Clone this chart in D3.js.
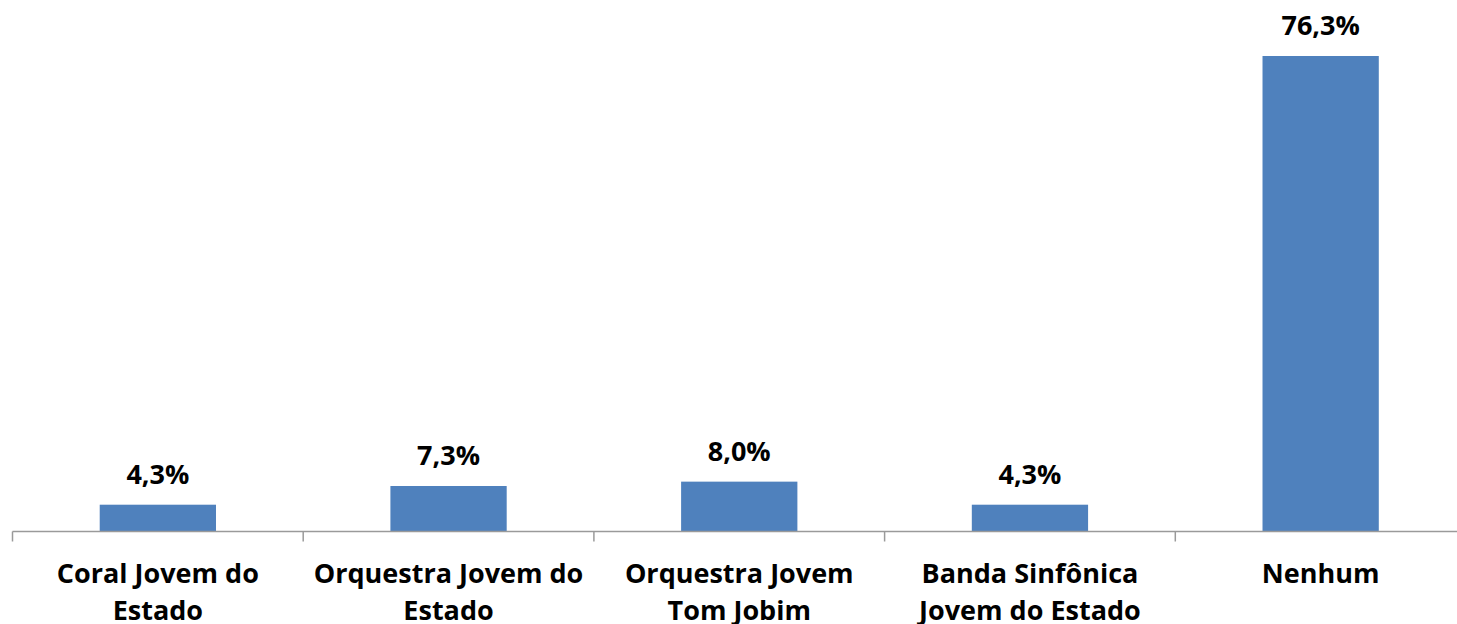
<!DOCTYPE html>
<html>
<head>
<meta charset="utf-8">
<script src="https://cdn.jsdelivr.net/npm/d3@7"></script>
<style>
  body { margin: 0; background: #fff; }
  text { font-family: "Open Sans", sans-serif; font-weight: bold; fill: #000; }
</style>
</head>
<body>
<svg id="chart"></svg>
<script>
var categories = [
  ['Coral Jovem do', 'Estado'],
  ['Orquestra Jovem do', 'Estado'],
  ['Orquestra Jovem', 'Tom Jobim'],
  ['Banda Sinfônica', 'Jovem do Estado'],
  ['Nenhum']
];
var values = [4.3, 7.3, 8.0, 4.3, 76.3];
var valueLabels = ['4,3%', '7,3%', '8,0%', '4,3%', '76,3%'];

var svgWidth = 1457;
var svgHeight = 624;
var baseline = 531.5;

var svg = d3.select('#chart')
  .attr('width', svgWidth)
  .attr('height', svgHeight);

// uma faixa por categoria, barra ocupa 40% da faixa
var xScale = d3.scaleBand()
  .domain(d3.range(categories.length))
  .range([12.5, 1466]);
var barWidth = xScale.bandwidth() * 0.4;

var yScale = d3.scaleLinear()
  .domain([0, 76.3])
  .range([baseline, 56]);

// barras
svg.selectAll('.bar')
  .data(values)
  .enter()
  .append('rect')
  .attr('class', 'bar')
  .attr('x', function(d, i){ return xScale(i) + (xScale.bandwidth() - barWidth) / 2; })
  .attr('width', barWidth)
  .attr('y', function(d){ return yScale(d); })
  .attr('height', function(d){ return baseline - yScale(d); })
  .attr('fill', '#4F81BD');

// eixo x
svg.append('line')
  .attr('x1', 12.5).attr('x2', svgWidth)
  .attr('y1', baseline).attr('y2', baseline)
  .attr('stroke', '#9a9a9a').attr('stroke-width', 1.5);

svg.selectAll('.tick')
  .data(d3.range(categories.length))
  .enter()
  .append('line')
  .attr('class', 'tick')
  .attr('x1', function(i){ return xScale(i); })
  .attr('x2', function(i){ return xScale(i); })
  .attr('y1', baseline)
  .attr('y2', baseline + 10)
  .attr('stroke', '#9a9a9a').attr('stroke-width', 1.5);

// rótulos de valor
svg.selectAll('.valueLabel')
  .data(values)
  .enter()
  .append('text')
  .attr('class', 'valueLabel')
  .attr('x', function(d, i){ return xScale(i) + xScale.bandwidth() / 2; })
  .attr('y', function(d){ return yScale(d) - 21; })
  .attr('text-anchor', 'middle')
  .style('font-size', '27px')
  .text(function(d, i){ return valueLabels[i]; });

// rótulos das categorias
var catLabel = svg.selectAll('.catLabel')
  .data(categories)
  .enter()
  .append('text')
  .attr('class', 'catLabel')
  .attr('text-anchor', 'middle')
  .attr('y', 583)
  .style('font-size', '27px');

catLabel.selectAll('tspan')
  .data(function(d, i){ return d.map(function(t){ return {t: t, i: i}; }); })
  .enter()
  .append('tspan')
  .attr('x', function(d){ return xScale(d.i) + xScale.bandwidth() / 2; })
  .attr('dy', function(d, j){ return j == 0 ? 0 : 37; })
  .text(function(d){ return d.t; });
</script>
</body>
</html>
